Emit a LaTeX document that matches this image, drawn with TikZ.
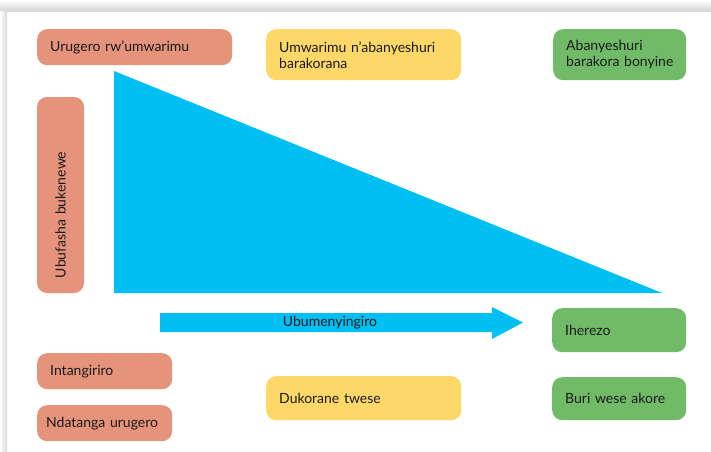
\documentclass[tikz,border=0pt]{standalone}
\usepackage{fontspec}
\setmainfont{Lato}
\definecolor{salmon}{HTML}{E5937B}
\definecolor{sun}{HTML}{FDD767}
\definecolor{leaf}{HTML}{71BB68}
\definecolor{sky}{HTML}{00BFF2}
\definecolor{ink}{HTML}{1A1A1A}
\definecolor{shadowgray}{HTML}{D6D6D6}
\begin{document}
\begin{tikzpicture}[x=1pt,y=-1pt,
  font=\fontsize{14}{16}\selectfont,
  box/.style={rounded corners=10pt, inner xsep=13pt, inner ysep=0pt,
              anchor=north west, align=left, text=ink},
  warm/.style={box, fill=salmon},
  mid/.style={box, fill=sun},
  cool/.style={box, fill=leaf}]
  % page and its soft shadow
  \useasboundingbox (0,0) rectangle (711,451);
  \fill[white] (0,0) rectangle (711,451);
  \shade[top color=white, bottom color=shadowgray] (0,0) rectangle (711,11);
  \shade[left color=white, right color=shadowgray] (0,11) rectangle (7,451);

  % teacher-to-learner wedge
  \coordinate (wtop) at (114,71);
  \coordinate (wbase) at (114,293);
  \coordinate (wtip) at (662,293);
  \fill[sky] (wtop) -- (wbase) -- (wtip) -- cycle;

  % knowledge arrow
  \fill[sky] (160,313) -- (492,313) -- (492,307) -- (523,322.5)
             -- (492,339) -- (492,332) -- (160,332) -- cycle;
  \node[text=ink, inner sep=0pt] (skill) at (330,322.5) {Ubumenyingiro};

  % top row
  \node[warm, text width=169pt, minimum height=36pt] (urugero) at (37,29) {Urugero rw’umwarimu};
  \node[mid, text width=169pt, minimum height=51pt] (together) at (266,29) {Umwarimu n’abanyeshuri\\barakorana};
  \node[cool, text width=107pt, minimum height=51pt] (alone) at (553,29) {Abanyeshuri\\\mbox{barakora bonyine}};

  % support column
  \node[box, fill=salmon, anchor=center, rotate=90, inner xsep=15pt,
        text width=166pt, minimum height=47pt] (support) at (60.5,195) {Ubufasha bukenewe};

  % lower rows
  \node[warm, text width=109pt, minimum height=36pt] (start) at (37,353) {Intangiriro};
  \node[warm, inner xsep=9pt, text width=117pt, minimum height=36pt] (model) at (37,405) {Ndatanga urugero};
  \node[mid, text width=169pt, minimum height=44pt] (allwork) at (266,376) {Dukorane twese};
  \node[cool, text width=108pt, minimum height=44pt] (finish) at (552,308) {Iherezo};
  \node[cool, text width=108pt, minimum height=43pt] (each) at (552,377) {Buri wese akore};
\end{tikzpicture}
\end{document}
